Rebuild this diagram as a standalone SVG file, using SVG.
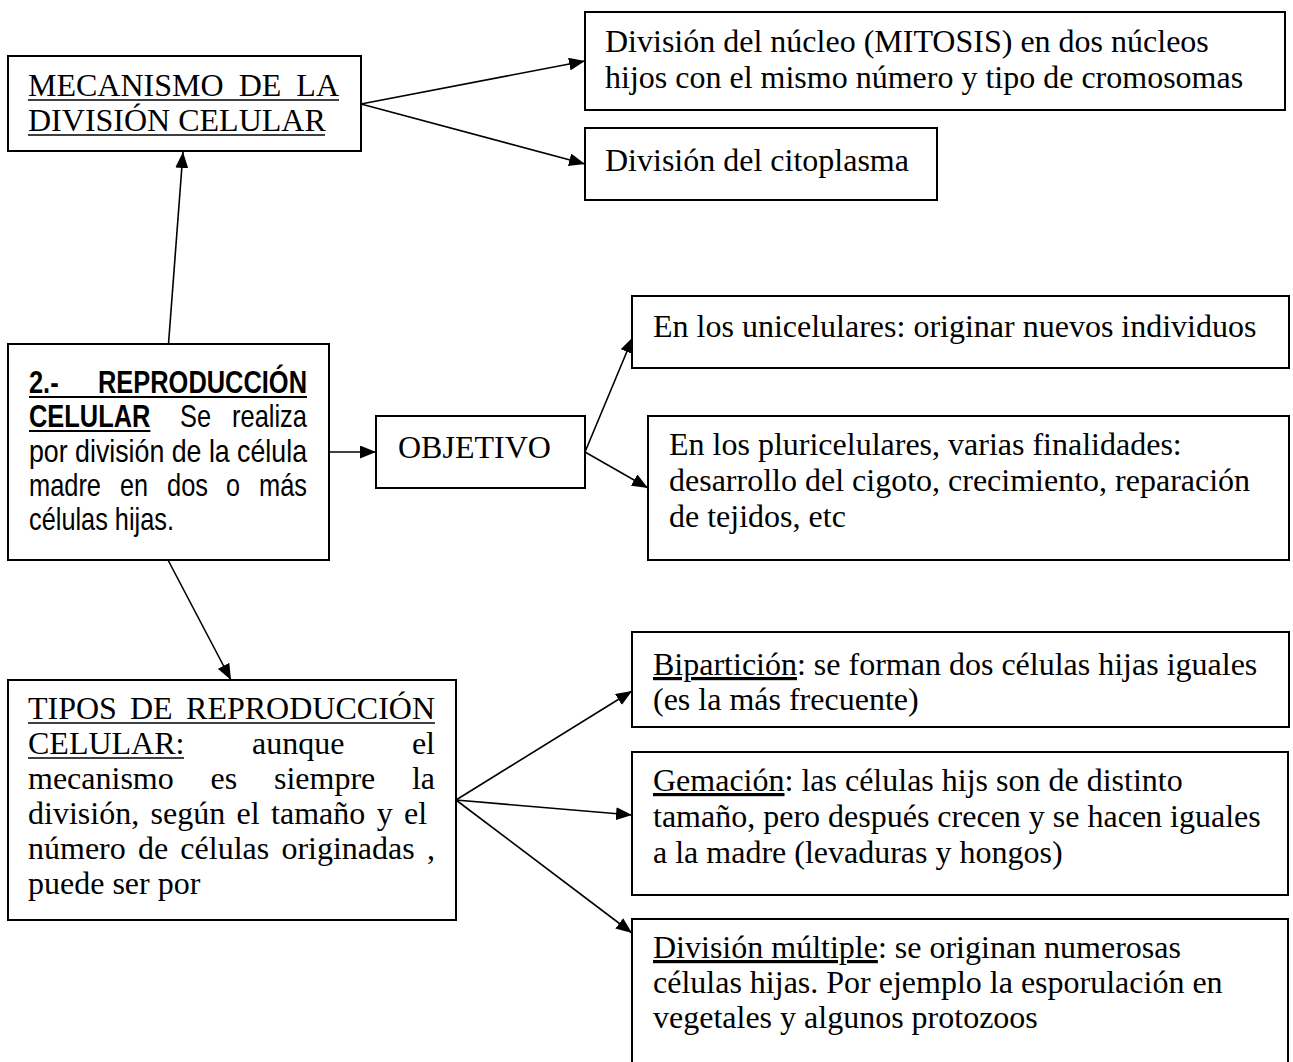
<svg xmlns="http://www.w3.org/2000/svg" width="1293" height="1062" viewBox="0 0 1293 1062">
<style>
.box{fill:#fff;stroke:#000;stroke-width:2}
.t{font-family:'Liberation Serif','Times New Roman',serif;font-size:32px;fill:#000}
.n{font-family:'Liberation Sans','Arial',sans-serif;font-size:32px;fill:#000}
.b{font-weight:bold}
.u{stroke:#000;stroke-width:1.6}
.c{stroke:#000;stroke-width:1.6;fill:none;marker-end:url(#ah)}
</style>
<defs>
<marker id="ah" markerWidth="16" markerHeight="13" refX="16" refY="6.5" orient="auto" markerUnits="userSpaceOnUse"><path d="M0,0 L16,6.5 L0,13 z" fill="#000"/></marker>
</defs>
<rect width="1293" height="1062" fill="#fff"/>
<g id="connectors">
<line class="c" x1="168.5" y1="344" x2="183" y2="152"/>
<line class="c" x1="361" y1="104" x2="585" y2="61"/>
<line class="c" x1="361" y1="104" x2="585" y2="164"/>
<line class="c" x1="329" y1="452" x2="376" y2="452"/>
<line class="c" x1="585" y1="452" x2="633" y2="337"/>
<line class="c" x1="585" y1="452" x2="648" y2="488"/>
<line class="c" x1="168" y1="560" x2="231" y2="680"/>
<line class="c" x1="456" y1="800" x2="632" y2="691"/>
<line class="c" x1="456" y1="800" x2="632" y2="815"/>
<line class="c" x1="456" y1="800" x2="632" y2="933"/>
</g>
<g id="mecanismo">
<rect class="box" x="8" y="56" width="353" height="95"/>
<text class="t" x="28" y="96">MECANISMO</text>
<text class="t" x="260" y="96" text-anchor="middle">DE</text>
<text class="t" x="339" y="96" text-anchor="end">LA</text>
<line class="u" x1="28" y1="100" x2="339" y2="100"/>
<text class="t" x="28" y="131">DIVISIÓN CELULAR</text>
<line class="u" x1="28" y1="135" x2="325" y2="135"/>
</g>
<g id="nucleo">
<rect class="box" x="585" y="12" width="700" height="98"/>
<text class="t" x="605" y="52">División del núcleo (MITOSIS) en dos núcleos</text>
<text class="t" x="605" y="88">hijos con el mismo número y tipo de cromosomas</text>
</g>
<g id="citoplasma">
<rect class="box" x="585" y="128" width="352" height="72"/>
<text class="t" x="605" y="171">División del citoplasma</text>
</g>
<g id="reproduccion">
<rect class="box" x="8" y="344" width="321" height="216"/>
<text class="n b" x="29" y="393" textLength="29.6" lengthAdjust="spacingAndGlyphs">2.-</text>
<text class="n b" x="98" y="393" textLength="209" lengthAdjust="spacingAndGlyphs">REPRODUCCIÓN</text>
<line class="u" x1="29" y1="397" x2="307" y2="397" style="stroke-width:2.2"/>
<text class="n b" x="29" y="427" textLength="121.4" lengthAdjust="spacingAndGlyphs">CELULAR</text>
<line class="u" x1="29" y1="431" x2="150.4" y2="431" style="stroke-width:2.2"/>
<text class="n" x="180" y="427" textLength="31" lengthAdjust="spacingAndGlyphs">Se</text>
<text class="n" x="232" y="427" textLength="75" lengthAdjust="spacingAndGlyphs">realiza</text>
<text class="n" x="29" y="462" textLength="278" lengthAdjust="spacingAndGlyphs">por división de la célula</text>
<text class="n" x="29" y="496" textLength="72" lengthAdjust="spacingAndGlyphs">madre</text>
<text class="n" x="120" y="496" textLength="28" lengthAdjust="spacingAndGlyphs">en</text>
<text class="n" x="167" y="496" textLength="41" lengthAdjust="spacingAndGlyphs">dos</text>
<text class="n" x="226" y="496" textLength="14" lengthAdjust="spacingAndGlyphs">o</text>
<text class="n" x="259" y="496" textLength="48" lengthAdjust="spacingAndGlyphs">más</text>
<text class="n" x="29" y="530" textLength="145" lengthAdjust="spacingAndGlyphs">células hijas.</text>
</g>
<g id="objetivo">
<rect class="box" x="376" y="416" width="209" height="72"/>
<text class="t" x="398" y="458">OBJETIVO</text>
</g>
<g id="unicelulares">
<rect class="box" x="632" y="296" width="657" height="72"/>
<text class="t" x="653" y="337">En los unicelulares: originar nuevos individuos</text>
</g>
<g id="pluricelulares">
<rect class="box" x="648" y="416" width="641" height="144"/>
<text class="t" x="669" y="455">En los pluricelulares, varias finalidades:</text>
<text class="t" x="669" y="491">desarrollo del cigoto, crecimiento, reparación</text>
<text class="t" x="669" y="527">de tejidos, etc</text>
</g>
<g id="tipos">
<rect class="box" x="8" y="680" width="448" height="240"/>
<text class="t" x="28" y="719">TIPOS</text>
<text class="t" x="130" y="719">DE</text>
<text class="t" x="435" y="719" text-anchor="end">REPRODUCCIÓN</text>
<line class="u" x1="28" y1="723" x2="435" y2="723"/>
<text class="t" x="28" y="754">CELULAR:</text>
<line class="u" x1="28" y1="758" x2="184" y2="758"/>
<text class="t" x="252" y="754">aunque</text>
<text class="t" x="435" y="754" text-anchor="end">el</text>
<text class="t" x="28" y="789">mecanismo</text>
<text class="t" x="210.5" y="789">es</text>
<text class="t" x="274" y="789">siempre</text>
<text class="t" x="435" y="789" text-anchor="end">la</text>
<text class="t" x="28" y="824" word-spacing="3.4">división, según el tamaño y el</text>
<text class="t" x="28" y="859" word-spacing="4.2">número de células originadas ,</text>
<text class="t" x="28" y="894">puede ser por</text>
</g>
<g id="biparticion">
<rect class="box" x="632" y="632" width="657" height="95"/>
<text class="t" x="653" y="675"><tspan text-decoration="underline">Bipartición</tspan>: se forman dos células hijas iguales</text>
<text class="t" x="653" y="710">(es la más frecuente)</text>
</g>
<g id="gemacion">
<rect class="box" x="632" y="752" width="656" height="143"/>
<text class="t" x="653" y="791"><tspan text-decoration="underline">Gemación</tspan>: las células hijs son de distinto</text>
<text class="t" x="653" y="827">tamaño, pero después crecen y se hacen iguales</text>
<text class="t" x="653" y="863">a la madre (levaduras y hongos)</text>
</g>
<g id="multiple">
<rect class="box" x="632" y="919" width="656" height="160"/>
<text class="t" x="653" y="958"><tspan text-decoration="underline">División múltiple</tspan>: se originan numerosas</text>
<text class="t" x="653" y="993">células hijas. Por ejemplo la esporulación en</text>
<text class="t" x="653" y="1028">vegetales y algunos protozoos</text>
</g>
</svg>
